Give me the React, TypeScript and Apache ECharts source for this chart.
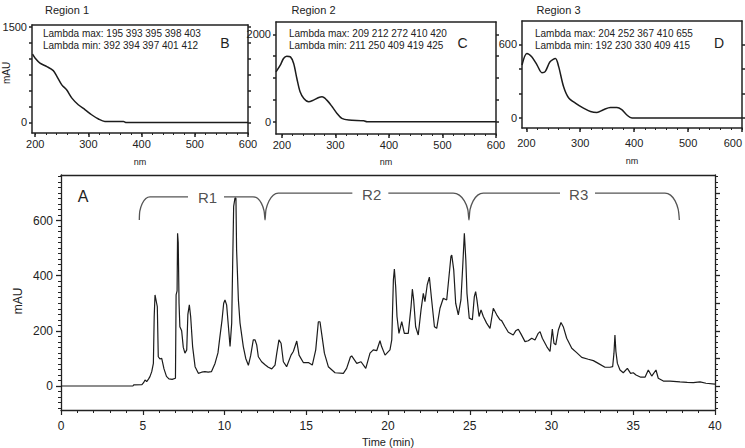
import React, { useEffect, useRef } from 'react';
import * as echarts from 'echarts';

// ---------- data ----------
// Main chromatogram: [time (min), absorbance (mAU)]
const chromatogram: [number, number][] = [
  [0, 0], [4.4, 0], [4.45, 4], [4.95, 5], [5.05, 12], [5.14, 22], [5.24, 16], [5.35, 25], [5.44, 34], [5.55, 52],
  [5.65, 82], [5.7, 250], [5.75, 330], [5.79, 330], [5.85, 300], [5.89, 288], [5.95, 106], [6.05, 98], [6.16, 100],
  [6.3, 62], [6.45, 35], [6.6, 26], [6.8, 24], [7.0, 28], [7.04, 330], [7.1, 345], [7.13, 554], [7.17, 520],
  [7.22, 300], [7.27, 215], [7.38, 200], [7.48, 140], [7.58, 119], [7.69, 131], [7.76, 260], [7.85, 294],
  [7.93, 252], [8.05, 143], [8.2, 70], [8.4, 46], [8.6, 50], [8.8, 52], [9.0, 50], [9.2, 52], [9.42, 82],
  [9.6, 120], [9.72, 179], [9.85, 240], [9.95, 300], [10.03, 312], [10.13, 294], [10.24, 215], [10.34, 143],
  [10.44, 228], [10.5, 445], [10.56, 651], [10.64, 681], [10.7, 681], [10.74, 494], [10.85, 312], [10.95, 228],
  [11.15, 143], [11.3, 100], [11.46, 75], [11.6, 110], [11.76, 167], [11.87, 167], [11.97, 149], [12.07, 106],
  [12.27, 88], [12.5, 76], [12.68, 68], [12.89, 62], [13.09, 76], [13.2, 120], [13.33, 167], [13.46, 155],
  [13.6, 88], [13.8, 70], [14.07, 112], [14.21, 125], [14.42, 163], [14.56, 112], [14.82, 85], [15.13, 85],
  [15.37, 76], [15.58, 131], [15.74, 233], [15.84, 233], [15.94, 191], [16.11, 119], [16.35, 70], [16.76, 48],
  [17.27, 46], [17.47, 64], [17.7, 105], [17.78, 109], [18.09, 82], [18.35, 88], [18.64, 64], [18.9, 119],
  [19.1, 131], [19.31, 128], [19.51, 164], [19.61, 143], [19.82, 112], [20.12, 131], [20.23, 167], [20.33, 385],
  [20.39, 424], [20.47, 360], [20.55, 252], [20.67, 191], [20.84, 233], [21.0, 191], [21.24, 191], [21.41, 288],
  [21.49, 351], [21.57, 312], [21.69, 215], [21.85, 185], [22.02, 276], [22.16, 336], [22.26, 306], [22.4, 367],
  [22.53, 395], [22.67, 312], [22.84, 215], [22.98, 209], [23.18, 282], [23.38, 318], [23.59, 312], [23.73, 397],
  [23.85, 470], [23.9, 475], [24.02, 421], [24.14, 300], [24.3, 258], [24.46, 312], [24.57, 433], [24.67, 554],
  [24.76, 457], [24.83, 336], [24.97, 246], [25.16, 240], [25.28, 324], [25.36, 342], [25.44, 312], [25.57, 252],
  [25.69, 276], [25.83, 252], [26.03, 228], [26.24, 209], [26.44, 282], [26.65, 258], [26.85, 240], [26.95, 237],
  [27.16, 215], [27.36, 195], [27.66, 185], [27.81, 200], [27.97, 206], [28.13, 189], [28.38, 161], [28.58, 164],
  [28.79, 173], [28.99, 167], [29.19, 191], [29.3, 197], [29.44, 173], [29.71, 143], [29.91, 125], [30.05, 206],
  [30.15, 155], [30.26, 149], [30.42, 203], [30.58, 230], [30.72, 215], [30.93, 173], [31.24, 137], [31.54, 121],
  [31.85, 104], [32.25, 97], [32.56, 92], [32.86, 82], [33.27, 68], [33.58, 68], [33.74, 70], [33.82, 119],
  [33.88, 185], [33.94, 125], [34.03, 82], [34.19, 58], [34.39, 48], [34.64, 64], [34.84, 46], [35.0, 48],
  [35.17, 40], [35.46, 32], [35.72, 32], [35.92, 58], [36.13, 36], [36.39, 58], [36.53, 28], [36.84, 18],
  [37.25, 18], [37.86, 15], [38.3, 13], [38.67, 12], [39.08, 15], [39.45, 10], [40, 7],
];

// UV spectra: [wavelength (nm), absorbance (mAU)]
const spectrumRegion1: [number, number][] = [
  [195, 1069], [200, 1006], [209, 928], [222, 875], [234, 812], [241, 719], [250, 589], [259, 511], [269, 381],
  [281, 277], [294, 198], [306, 120], [319, 53], [331, 16], [366, 16], [370, 0], [600, 0],
];
const spectrumRegion2: [number, number][] = [
  [189, 1141], [197, 1293], [203, 1445], [209, 1498], [216, 1483], [222, 1331], [228, 989], [234, 684], [241, 532],
  [250, 456], [259, 494], [269, 555], [275, 570], [284, 494], [294, 342], [303, 190], [312, 76], [325, 38],
  [353, 23], [359, 0], [600, 0],
];
const spectrumRegion3: [number, number][] = [
  [192, 432], [201, 527], [210, 500], [220, 432], [229, 370], [235, 378], [244, 459], [254, 486], [260, 419],
  [269, 257], [278, 168], [291, 122], [306, 81], [319, 54], [331, 46], [343, 68], [356, 86], [368, 86], [377, 68],
  [386, 27], [396, 0], [600, 0],
];

// Region brackets drawn above the chromatogram, in data units
const bracketR1Left: [number, number][] = [[4.79, 602], [4.82, 634], [4.97, 662], [5.19, 680], [5.44, 686], [7.77, 686]];
const bracketR1R2: [number, number][] = [
  [9.97, 686], [11.74, 686], [12.02, 681], [12.26, 662], [12.42, 635], [12.48, 602],
  [12.54, 640], [12.72, 671], [12.98, 692], [13.29, 699], [17.82, 699],
];
const bracketR2R3: [number, number][] = [
  [20.02, 699], [23.99, 699], [24.36, 692], [24.67, 671], [24.88, 640], [24.95, 602],
  [25.02, 640], [25.21, 671], [25.49, 692], [25.83, 699], [30.52, 699],
];
const bracketR3Right: [number, number][] = [[32.66, 699], [36.94, 699], [37.28, 692], [37.56, 671], [37.75, 640], [37.82, 602]];
const regionNames = [
  { name: 'R1', value: [8.96, 684] },
  { name: 'R2', value: [19.0, 696] },
  { name: 'R3', value: [31.66, 696] },
];

// Tick labels
const mainYLabels = [0, 200, 400, 600];
const nmLabels = [200, 300, 400, 500, 600];
const region1YLabels = [0, 1500];
const region2YLabels = [0, 2000];
const region3YLabels = [0, 600];
const lambdaText = [
  ['Lambda max: 195 393 395 398 403', 'Lambda min: 392 394 397 401 412'],
  ['Lambda max: 209 212 272 410 420', 'Lambda min: 211 250 409 419 425'],
  ['Lambda max: 204 252 367 410 655', 'Lambda min: 192 230 330 409 415'],
];
const regionTitles = ['Region 1', 'Region 2', 'Region 3'];
const panelLetters = ['A', 'B', 'C', 'D'];

// ---------- helpers ----------
const FONT = "'Liberation Sans', Arial, Helvetica, sans-serif";
const INK = '#222';
const steps = (a: number, b: number, s: number) => {
  const out: number[] = [];
  for (let v = a; v <= b + 1e-9; v += s) out.push(Math.round(v * 1000) / 1000);
  return out;
};
const lineStyle = (w: number) => ({ color: INK, width: w });
const plain = (v: number) => String(v);

function frameAxis(gridIndex: number, position: string, min: number, max: number, w: number) {
  return {
    type: 'value', gridIndex, position, min, max,
    axisLine: { show: true, onZero: false, lineStyle: lineStyle(w) },
    axisTick: { show: false }, axisLabel: { show: false }, splitLine: { show: false },
  };
}
function tickAxis(gridIndex: number, position: string, min: number, max: number, ticks: number[], len: number, w: number) {
  return {
    type: 'value', gridIndex, position, min, max,
    axisLine: { show: false, onZero: false },
    axisTick: { show: true, length: len, customValues: ticks, lineStyle: lineStyle(w) },
    axisLabel: { show: false }, splitLine: { show: false },
  };
}
function labelAxis(
  gridIndex: number, position: string, min: number, max: number,
  labels: number[], ticks: number[], len: number, w: number, fontSize: number, margin: number, extra: any = {},
) {
  return {
    type: 'value', gridIndex, position, min, max,
    axisLine: { show: true, onZero: false, lineStyle: lineStyle(w) },
    axisTick: { show: true, length: len, customValues: ticks, lineStyle: lineStyle(w) },
    axisLabel: {
      show: labels.length > 0, customValues: labels, fontSize, fontFamily: FONT, color: INK, margin, formatter: plain,
      ...(extra.axisLabel || {}),
    },
    splitLine: { show: false },
    ...(extra.name ? { name: extra.name, nameLocation: extra.nameLocation, nameGap: extra.nameGap, nameTextStyle: extra.nameTextStyle } : {}),
  };
}

const insets = [
  { grid: { left: 32, top: 25, width: 216, height: 108 }, x: [194, 600], y: [-166, 1527], yLabels: region1YLabels, yTicks: steps(0, 1500, 250), xMargin: 5, nameGap: 24, alignMax: undefined, data: spectrumRegion1 },
  { grid: { left: 276, top: 22, width: 220, height: 112 }, x: [189, 600], y: [-280, 2281], yLabels: region2YLabels, yTicks: steps(0, 2000, 500), xMargin: 5, nameGap: 23, alignMax: undefined, data: spectrumRegion2 },
  { grid: { left: 522, top: 21, width: 220, height: 107 }, x: [192, 600], y: [-81, 791], yLabels: region3YLabels, yTicks: steps(0, 600, 200), xMargin: 9, nameGap: 28, alignMax: 'right', data: spectrumRegion3 },
];

function buildOption() {
  const grid: any[] = [{ left: 61, top: 175, width: 654, height: 235, outerBoundsMode: 'none', containLabel: false }];
  const xAxis: any[] = [
    {
      type: 'value', gridIndex: 0, position: 'bottom', min: 0, max: 40, interval: 5,
      axisLine: { show: true, onZero: false, lineStyle: lineStyle(1.3) },
      axisTick: { show: true, length: 5, lineStyle: lineStyle(1.2) },
      minorTick: { show: true, splitNumber: 5, length: 3, lineStyle: lineStyle(1) },
      axisLabel: { fontSize: 12, fontFamily: FONT, color: INK, margin: 10, formatter: plain },
      splitLine: { show: false }, minorSplitLine: { show: false },
      name: 'Time (min)', nameLocation: 'middle', nameGap: 24,
      nameTextStyle: { fontSize: 11, fontFamily: FONT, color: INK },
    },
    frameAxis(0, 'top', 0, 40, 1.3),
  ];
  const yAxis: any[] = [
    labelAxis(0, 'left', -87, 765, mainYLabels, mainYLabels, 5, 1.3, 12, 8),
    tickAxis(0, 'left', -87, 765, steps(-80, 760, 20), 3, 1),
    labelAxis(0, 'right', -87, 765, [], steps(0, 700, 100), 5, 1.3, 12, 8),
    tickAxis(0, 'right', -87, 765, steps(-80, 760, 20), 3, 1),
  ];
  const series: any[] = [
    {
      type: 'line', xAxisIndex: 0, yAxisIndex: 0, data: chromatogram, showSymbol: false, symbol: 'none',
      lineStyle: { color: '#1c1c1c', width: 1.2 }, z: 3,
    },
  ];
  [bracketR1Left, bracketR1R2, bracketR2R3, bracketR3Right].forEach((b) => {
    series.push({
      type: 'line', xAxisIndex: 0, yAxisIndex: 0, data: b, symbol: 'none', smooth: 0.25,
      lineStyle: { color: '#555', width: 1.3 }, z: 2,
    });
  });
  series.push({
    type: 'scatter', xAxisIndex: 0, yAxisIndex: 0, symbolSize: 0, data: regionNames,
    label: { show: true, position: 'inside', formatter: (p: any) => p.name, fontSize: 15, fontFamily: FONT, color: INK },
  });

  insets.forEach((ins, i) => {
    const g = i + 1;
    grid.push({ ...ins.grid, outerBoundsMode: 'none', containLabel: false });
    const xi = xAxis.length;
    xAxis.push(
      labelAxis(g, 'bottom', ins.x[0], ins.x[1], nmLabels, nmLabels, 4, 1.5, 11, ins.xMargin, {
        name: 'nm', nameLocation: 'middle', nameGap: ins.nameGap,
        nameTextStyle: { fontSize: 9, fontFamily: FONT, color: INK },
        axisLabel: ins.alignMax ? { alignMaxLabel: ins.alignMax } : {},
      }),
      frameAxis(g, 'top', ins.x[0], ins.x[1], 1.5),
      tickAxis(g, 'bottom', ins.x[0], ins.x[1], steps(200, 600, 20), 2, 1),
    );
    const yi = yAxis.length;
    yAxis.push(
      labelAxis(g, 'left', ins.y[0], ins.y[1], ins.yLabels, ins.yTicks, 3, 1.5, 11, 5),
      labelAxis(g, 'right', ins.y[0], ins.y[1], [], ins.yTicks, 3, 1.5, 11, 5),
    );
    series.push({
      type: 'line', xAxisIndex: xi, yAxisIndex: yi, data: ins.data, symbol: 'none', smooth: 0.3,
      lineStyle: { color: '#1c1c1c', width: 1.5 },
    });
  });

  const txt = (text: string, x: number, y: number, size: number, align = 'left', rotation = 0) => ({
    type: 'text', x, y, rotation,
    style: { text, fontSize: size, fontFamily: FONT, fill: INK, textAlign: align, textVerticalAlign: 'middle' },
  });
  const lambdaX = [43, 289, 535];
  const letterX = [225, 462.5, 719];
  const titleX = [45, 291.5, 536.5];
  const graphic: any[] = [
    txt(panelLetters[0], 83, 196, 16, 'center'),
    txt('mAU', 17.5, 301, 12, 'center', Math.PI / 2),
    txt('mAU', 6.5, 73, 10, 'center', Math.PI / 2),
  ];
  for (let i = 0; i < 3; i++) {
    graphic.push(txt(regionTitles[i], titleX[i], 10, 11));
    graphic.push(txt(lambdaText[i][0], lambdaX[i], 33.5, 10));
    graphic.push(txt(lambdaText[i][1], lambdaX[i], 45, 10));
    graphic.push(txt(panelLetters[i + 1], letterX[i], 43, 14, 'center'));
  }

  return {
    animation: false,
    backgroundColor: '#fff',
    grid, xAxis, yAxis, series, graphic,
  };
}

export default function App() {
  const ref = useRef<HTMLDivElement>(null);
  useEffect(() => {
    if (!ref.current) return;
    const chart = echarts.init(ref.current, null, { renderer: 'svg' });
    chart.setOption(buildOption() as any);
    return () => chart.dispose();
  }, []);
  return <div ref={ref} style={{ position: 'fixed', left: 0, top: 0, width: 745, height: 448 }} />;
}
